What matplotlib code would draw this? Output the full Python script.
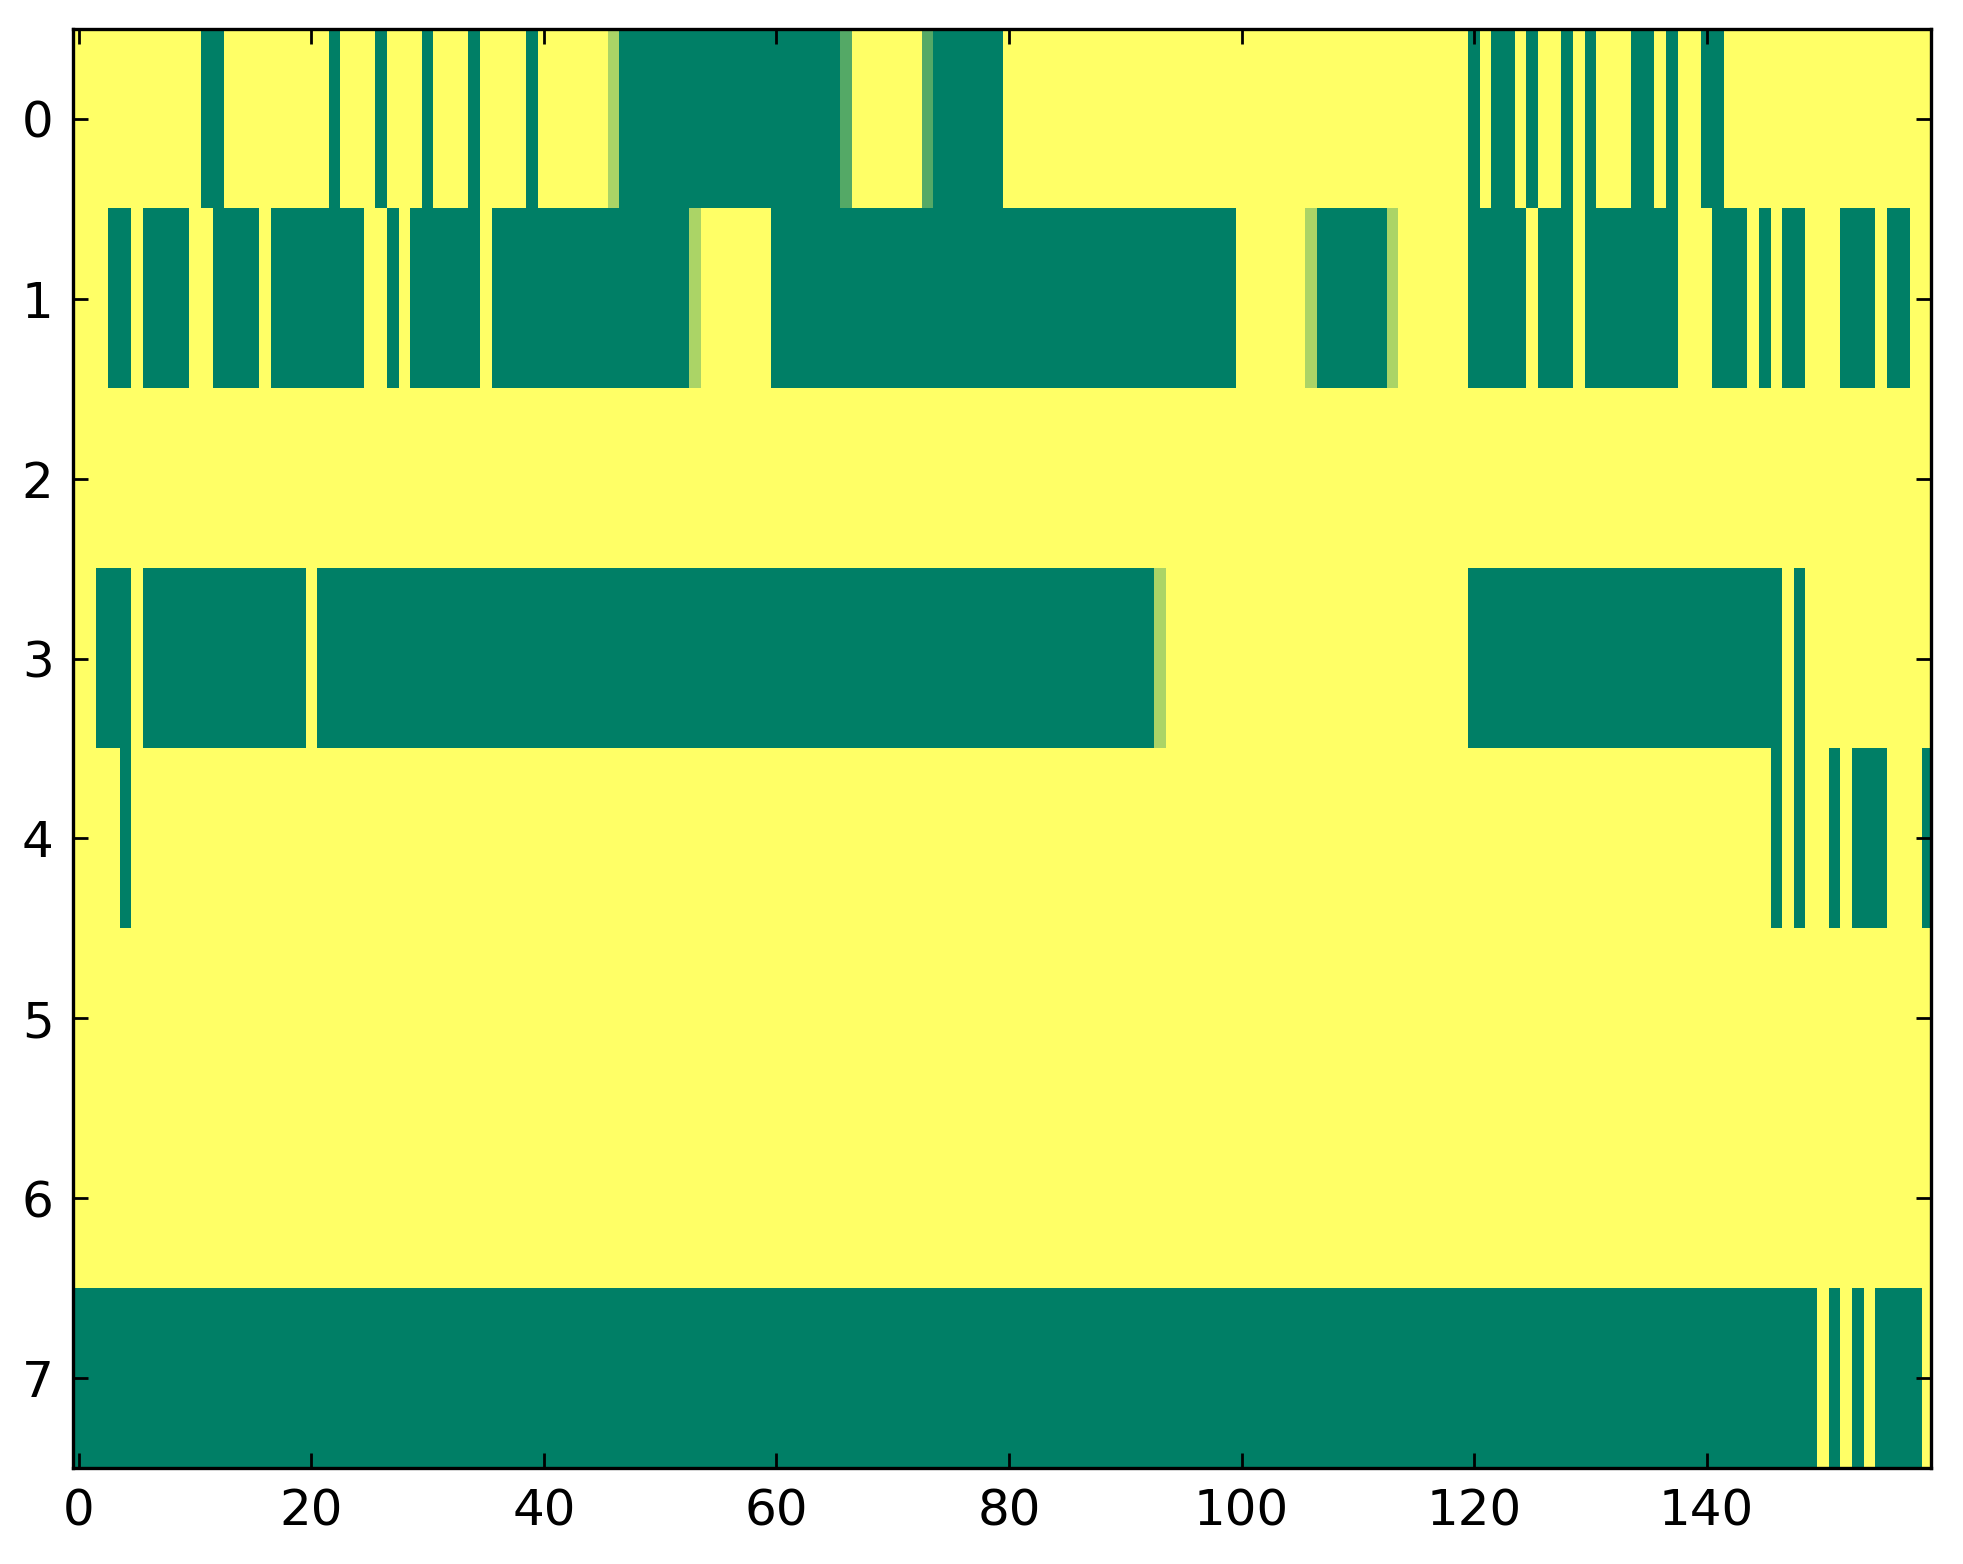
import numpy as np
import matplotlib
matplotlib.use("Agg")
import matplotlib.pyplot as plt

n_rows = 8
n_cols = 160

# non-yellow runs per row: (start, stop, value), stop exclusive, value 1 = yellow
row0_runs = [(11, 13, 0), (22, 23, 0), (26, 27, 0), (30, 31, 0), (34, 35, 0),
             (39, 40, 0), (46, 47, 0.67), (47, 66, 0), (66, 67, 0.33),
             (73, 74, 0.33), (74, 80, 0), (120, 121, 0), (122, 124, 0),
             (125, 126, 0), (128, 129, 0), (130, 131, 0), (134, 136, 0),
             (137, 138, 0), (140, 142, 0)]
row1_runs = [(3, 5, 0), (6, 10, 0), (12, 16, 0), (17, 25, 0), (27, 28, 0),
             (29, 35, 0), (36, 53, 0), (53, 54, 0.67), (60, 100, 0),
             (106, 107, 0.67), (107, 113, 0), (113, 114, 0.67), (120, 125, 0),
             (126, 129, 0), (130, 138, 0), (141, 144, 0), (145, 146, 0),
             (147, 149, 0), (152, 155, 0), (156, 158, 0)]
row2_runs = []
row3_runs = [(2, 5, 0), (6, 20, 0), (21, 93, 0), (93, 94, 0.67),
             (120, 147, 0), (148, 149, 0)]
row4_runs = [(4, 5, 0), (146, 147, 0), (148, 149, 0), (151, 152, 0),
             (153, 156, 0), (159, 160, 0)]
row5_runs = []
row6_runs = []
row7_runs = [(0, 150, 0), (151, 152, 0), (153, 154, 0), (155, 159, 0)]

all_runs = [row0_runs, row1_runs, row2_runs, row3_runs,
            row4_runs, row5_runs, row6_runs, row7_runs]

xticks = [0, 20, 40, 60, 80, 100, 120, 140]
yticks = [0, 1, 2, 3, 4, 5, 6, 7]


def build_matrix():
    m = np.ones((n_rows, n_cols))
    for r, runs in enumerate(all_runs):
        for start, stop, val in runs:
            m[r, start:stop] = val
    return m


def main():
    data = build_matrix()

    fig = plt.figure(figsize=(1963 / 200, 1564 / 200), dpi=200)
    ax = fig.add_axes([0.0372, 0.0614, 0.9465, 0.9201])
    ax.imshow(data, cmap="summer", vmin=0, vmax=1, aspect="auto",
              interpolation="nearest")

    ax.set_xlim(-0.5, 159.3)
    ax.set_ylim(7.5, -0.5)
    ax.set_xticks(xticks)
    ax.set_yticks(yticks)
    ax.tick_params(direction="in", length=5.4, width=1.0, labelsize=18,
                   top=True, right=True, pad=7)
    for s in ax.spines.values():
        s.set_linewidth(1.2)

    fig.savefig("out.png", dpi=200)


if __name__ == "__main__":
    main()
